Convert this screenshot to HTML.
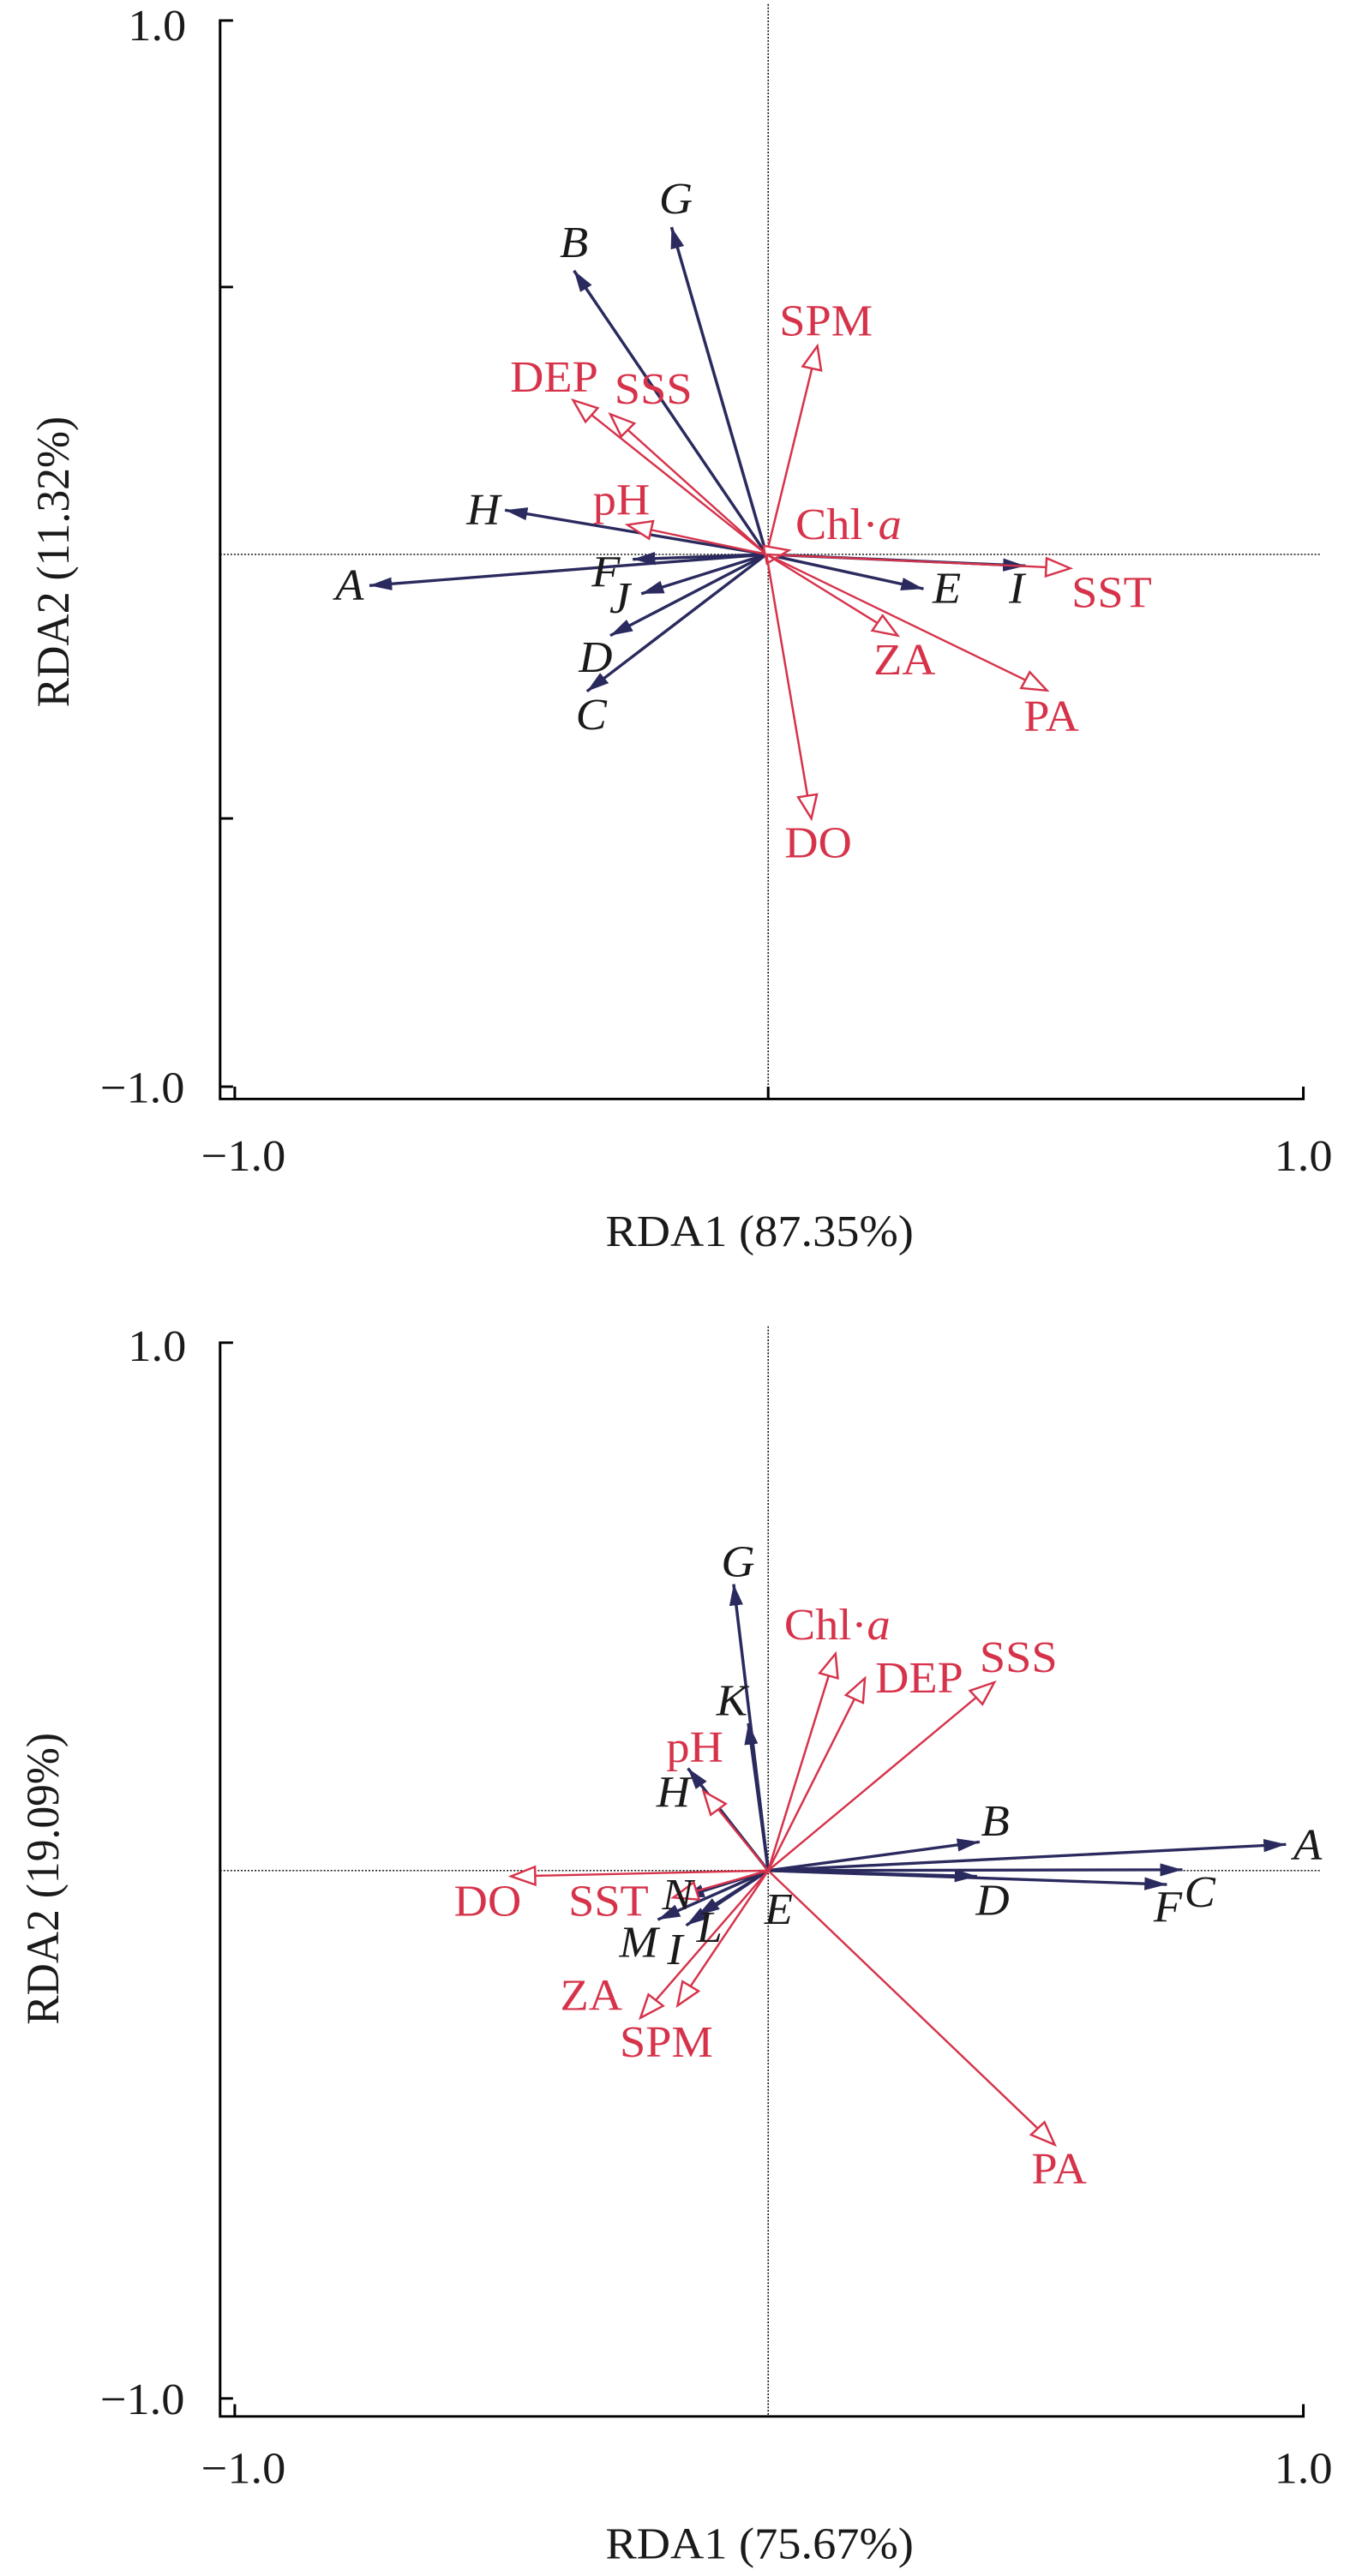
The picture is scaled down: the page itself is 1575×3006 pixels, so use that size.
<!DOCTYPE html>
<html><head><meta charset="utf-8"><style>
html,body{margin:0;padding:0;background:#fff;}
svg{display:block;}
text{font-family:"Liberation Serif",serif;}
.b{fill:#1a1a1a;font-style:italic;font-size:54px;}
.r{fill:#d6334a;font-size:54px;}
.t{fill:#1a1a1a;font-size:54px;}
.bl{stroke:#2a2a5e;stroke-width:3.5;marker-end:url(#hb);}
.rl{stroke:#d6334a;stroke-width:2.5;marker-end:url(#hr);}
</style></head><body>
<svg width="1575" height="3006" viewBox="0 0 1575 3006" xmlns="http://www.w3.org/2000/svg">
<defs>
<marker id="hb" markerUnits="userSpaceOnUse" markerWidth="30" markerHeight="20" refX="26" refY="8" orient="auto"><path d="M0,0 L26,8 L0,16 Z" fill="#2a2a5e"/></marker>
<marker id="hr" markerUnits="userSpaceOnUse" markerWidth="34" markerHeight="30" refX="30" refY="13" orient="auto"><path d="M2,2 L30,13 L2,24 Z" fill="#fff" stroke="#d6334a" stroke-width="2.5"/></marker>
</defs>
<g text-anchor="middle" dominant-baseline="central">
<!-- chart 1 -->
<g transform="matrix(1.007,0,0,0.957,0,0)">
<g stroke="#000" stroke-width="3" fill="none">
<path d="M270,25 H255 V1340 H1510 V1325 M255,350 H270 M255,998 H270 M255,1325 H270 M272,1340 V1325 M890,1340 V1325"/>
</g>
<g stroke="#000" stroke-width="1.5" stroke-dasharray="2,2">
<line x1="255" y1="676" x2="1530" y2="676"/><line x1="890" y1="5" x2="890" y2="1340"/>
</g>
<text class="t" x="182" y="32">1.0</text>
<text class="t" x="165" y="1327">−1.0</text>
<text class="t" x="282" y="1410">−1.0</text>
<text class="t" x="1510" y="1410">1.0</text>
<text class="t" x="880" y="1502">RDA1 (87.35%)</text>
<text class="t" transform="translate(62,685) rotate(-90)">RDA2 (11.32%)</text>
<g>
<line class="bl" x1="888" y1="676" x2="428" y2="714"/>
<line class="bl" x1="888" y1="676" x2="665" y2="330"/>
<line class="bl" x1="888" y1="676" x2="585" y2="622"/>
<line class="bl" x1="888" y1="676" x2="778" y2="277"/>
<line class="bl" x1="888" y1="676" x2="733" y2="682"/>
<line class="bl" x1="888" y1="676" x2="743" y2="724"/>
<line class="bl" x1="888" y1="676" x2="707" y2="775"/>
<line class="bl" x1="888" y1="676" x2="680" y2="843"/>
<line class="bl" x1="888" y1="676" x2="1070" y2="718"/>
<line class="bl" x1="888" y1="676" x2="1188" y2="690"/>
<line class="rl" x1="888" y1="676" x2="947" y2="422"/>
<line class="rl" x1="888" y1="676" x2="664" y2="488"/>
<line class="rl" x1="888" y1="676" x2="707" y2="505"/>
<line class="rl" x1="888" y1="676" x2="727" y2="640"/>
<line class="rl" x1="888" y1="676" x2="914" y2="671"/>
<line class="rl" x1="888" y1="676" x2="1240" y2="693"/>
<line class="rl" x1="888" y1="676" x2="1040" y2="775"/>
<line class="rl" x1="888" y1="676" x2="1213" y2="842"/>
<line class="rl" x1="888" y1="676" x2="940" y2="998"/>
</g>
<text class="b" x="405" y="714">A</text>
<text class="b" x="665" y="296">B</text>
<text class="b" x="560" y="622">H</text>
<text class="b" x="783" y="243">G</text>
<text class="b" x="702" y="698">F</text>
<text class="b" x="718" y="730">J</text>
<text class="b" x="690" y="802">D</text>
<text class="b" x="685" y="872">C</text>
<text class="b" x="1097" y="718">E</text>
<text class="b" x="1178" y="718">I</text>
<text class="r" x="957" y="392">SPM</text>
<text class="r" x="642" y="460">DEP</text>
<text class="r" x="757" y="475">SSS</text>
<text class="r" x="720" y="610">pH</text>
<text class="r" x="983" y="640">Chl·<tspan font-style="italic">a</tspan></text>
<text class="r" x="1288" y="723">SST</text>
<text class="r" x="1048" y="805">ZA</text>
<text class="r" x="1218" y="874">PA</text>
<text class="r" x="948" y="1028">DO</text>
</g>

<!-- chart 2 -->
<g transform="matrix(1.007,0,0,0.955,0,1500)">
<g stroke="#000" stroke-width="3" fill="none">
<path d="M270,70 H255 V1382 H1510 V1367 M255,1360 H270 M272,1382 V1367"/>
</g>
<g stroke="#000" stroke-width="1.5" stroke-dasharray="2,2">
<line x1="255" y1="715" x2="1530" y2="715"/><line x1="890" y1="50" x2="890" y2="1382"/>
</g>
<text class="t" x="182" y="75">1.0</text>
<text class="t" x="165" y="1362">−1.0</text>
<text class="t" x="282" y="1446">−1.0</text>
<text class="t" x="1510" y="1446">1.0</text>
<text class="t" x="880" y="1538">RDA1 (75.67%)</text>
<text class="t" transform="translate(50,725) rotate(-90)">RDA2 (19.09%)</text>
<g>
<line class="bl" x1="890" y1="715" x2="850" y2="365"/>
<line class="bl" x1="890" y1="715" x2="867" y2="535"/>
<line class="bl" x1="890" y1="715" x2="797" y2="590"/>
<line class="bl" x1="890" y1="715" x2="1135" y2="680"/>
<line class="bl" x1="890" y1="715" x2="1490" y2="683"/>
<line class="bl" x1="890" y1="715" x2="1370" y2="714"/>
<line class="bl" x1="890" y1="715" x2="1352" y2="732"/>
<line class="bl" x1="890" y1="715" x2="1132" y2="722"/>
<line class="bl" x1="890" y1="715" x2="790" y2="748"/>
<line class="bl" x1="890" y1="715" x2="762" y2="775"/>
<line class="bl" x1="890" y1="715" x2="795" y2="782"/>
<line class="bl" x1="890" y1="715" x2="808" y2="770"/>
<line class="rl" x1="890" y1="715" x2="592" y2="722"/>
<line class="rl" x1="890" y1="715" x2="780" y2="748"/>
<line class="rl" x1="890" y1="715" x2="815" y2="618"/>
<line class="rl" x1="890" y1="715" x2="968" y2="450"/>
<line class="rl" x1="890" y1="715" x2="1002" y2="480"/>
<line class="rl" x1="890" y1="715" x2="1152" y2="485"/>
<line class="rl" x1="890" y1="715" x2="742" y2="895"/>
<line class="rl" x1="890" y1="715" x2="785" y2="880"/>
<line class="rl" x1="890" y1="715" x2="1222" y2="1050"/>
</g>
<text class="b" x="855" y="338">G</text>
<text class="b" x="848" y="508">K</text>
<text class="b" x="780" y="620">H</text>
<text class="b" x="1153" y="655">B</text>
<text class="b" x="1515" y="684">A</text>
<text class="b" x="1390" y="742">C</text>
<text class="b" x="1353" y="760">F</text>
<text class="b" x="1150" y="752">D</text>
<text class="b" x="785" y="745">N</text>
<text class="b" x="740" y="803">M</text>
<text class="b" x="782" y="812">I</text>
<text class="b" x="822" y="785">L</text>
<text class="b" x="902" y="763">E</text>
<text class="r" x="565" y="753">DO</text>
<text class="r" x="705" y="753">SST</text>
<text class="r" x="805" y="565">pH</text>
<text class="r" x="970" y="415">Chl·<tspan font-style="italic">a</tspan></text>
<text class="r" x="1065" y="480">DEP</text>
<text class="r" x="1180" y="455">SSS</text>
<text class="r" x="685" y="868">ZA</text>
<text class="r" x="772" y="925">SPM</text>
<text class="r" x="1227" y="1080">PA</text>
</g>
</g>
</svg>
</body></html>
